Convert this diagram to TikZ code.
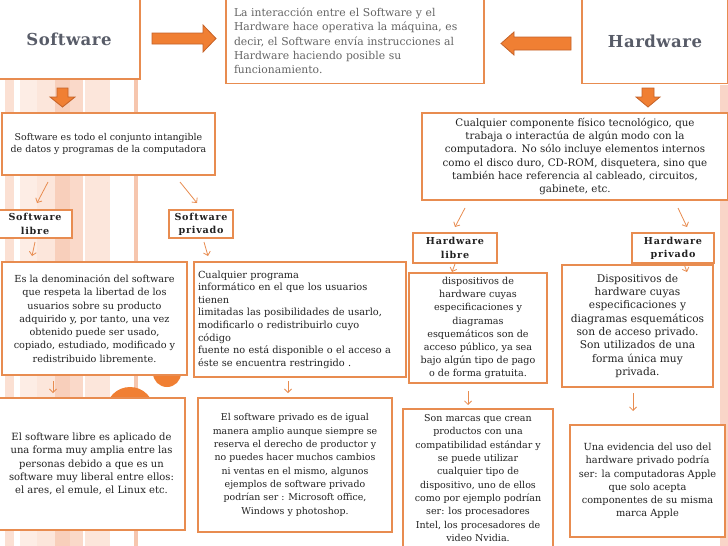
\documentclass[tikz,border=0pt]{standalone}
\usepackage{fontspec}
\setmainfont{DejaVu Serif}
\newfontfamily\hdrfont[LetterSpace=8]{DejaVu Serif}
\newfontfamily\ttlfont[LetterSpace=3]{DejaVu Serif}
\usetikzlibrary{arrows.meta}
\definecolor{bord}{RGB}{232,140,80}
\definecolor{arrfill}{RGB}{240,127,51}
\definecolor{arredge}{RGB}{196,98,40}
\definecolor{txt}{RGB}{34,34,34}
\definecolor{ttl}{RGB}{88,92,104}
\definecolor{midtxt}{RGB}{100,100,100}
\definecolor{stA}{RGB}{251,224,211}
\definecolor{stB}{RGB}{253,237,229}
\definecolor{stC}{RGB}{248,207,187}
\definecolor{stD}{RGB}{250,217,201}
\definecolor{stE}{RGB}{252,230,219}
\definecolor{stF}{RGB}{246,198,174}
\definecolor{stR}{RGB}{249,213,200}
\newcommand\fsz[2]{\fontsize{#1}{#2}\selectfont}
\begin{document}
\begin{tikzpicture}[x=1pt,y=-1pt,
  box/.style={draw=bord, line width=1.8pt, fill=white, inner sep=0pt, text=txt, align=center},
  hdr/.style={box, font=\hdrfont\bfseries\fsz{9.6}{13.3}},
  conn/.style={draw=bord, line width=0.8pt, -{Straight Barb[length=3.5pt,width=7pt]}},
  bigarrow/.style={fill=arrfill, draw=arredge, line width=0.8pt, line join=miter}]
\useasboundingbox (0,0) rectangle (728,546);
\fill[white] (0,0) rectangle (728,546);
% decorative background stripes
\fill[stA] (5,0) rectangle (14,546);
\fill[stB] (20,0) rectangle (37,546);
\fill[stE] (37,0) rectangle (55,546);
\fill[stC] (55,0) rectangle (70,546);
\fill[stD] (70,0) rectangle (83,546);
\fill[stE] (85,0) rectangle (110,546);
\fill[stF] (134,0) rectangle (137.5,546);
\fill[stR] (720,85) rectangle (728,546);
\fill[arrfill] (130,411) circle (24);
\fill[arrfill] (167,373) circle (14);
% main boxes
\node[box, minimum width=142, minimum height=80, font=\ttlfont\bfseries\fsz{16.5}{19}, text=ttl] (sw) at (69,39) {Software};
\node[box, minimum width=258, minimum height=85, align=left, text width=242, font=\fsz{10.8}{14.3}, text=midtxt] (mid) at (355,41) {La interacción entre el Software y el\\Hardware hace operativa la máquina, es\\decir, el Software envía instrucciones al\\Hardware haciendo posible su\\funcionamiento.};
\node[box, minimum width=146, minimum height=85, font=\ttlfont\bfseries\fsz{16.5}{19}, text=ttl] (hw) at (655,41) {Hardware};
% big arrows
\draw[bigarrow] (152,33) -- (203,33) -- (203,25) -- (216,38.5) -- (203,52) -- (203,44) -- (152,44) -- cycle;
\draw[bigarrow] (571,37) -- (514,37) -- (514,32) -- (501,43.5) -- (514,55) -- (514,50) -- (571,50) -- cycle;
\draw[bigarrow] (57,88) -- (68,88) -- (68,97) -- (75,97) -- (62.5,107) -- (50,97) -- (57,97) -- cycle;
\draw[bigarrow] (642,88) -- (654,88) -- (654,97) -- (660,97) -- (648,107) -- (636,97) -- (642,97) -- cycle;
% definitions
\node[box, minimum width=213, minimum height=62, font=\fsz{9.4}{12.7}] (swdef) at (108.5,144) {Software es todo el conjunto intangible\\de datos y programas de la computadora};
\node[box, minimum width=306, minimum height=87, font=\fsz{10.3}{13.3}] (hwdef) at (575,156.5) {Cualquier componente físico tecnológico, que\\trabaja o interactúa de algún modo con la\\computadora. No sólo incluye elementos internos\\como el disco duro, CD-ROM, disquetera, sino que\\también hace referencia al cableado, circuitos,\\gabinete, etc.};
% headers
\node[hdr, minimum width=74, minimum height=28] (swl) at (35,224) {Software\\libre};
\node[hdr, minimum width=64, minimum height=28] (swp) at (201,224) {Software\\privado};
\node[hdr, minimum width=84, minimum height=30] (hwl) at (455,248) {Hardware\\libre};
\node[hdr, minimum width=82, minimum height=30] (hwp) at (673,248) {Hardware\\privado};
% descriptions
\node[box, minimum width=185, minimum height=113, font=\fsz{9.7}{13.3}] (esla) at (94.5,318.5) {Es la denominación del software\\que respeta la libertad de los\\usuarios sobre su producto\\adquirido y, por tanto, una vez\\obtenido puede ser usado,\\copiado, estudiado, modificado y\\redistribuido libremente.};
\node[box, minimum width=212, minimum height=115, align=left, text width=204, font=\fsz{9.8}{12.6}] (cualq) at (300,319.5) {Cualquier programa\\informático en el que los usuarios\\tienen\\limitadas las posibilidades de usarlo,\\modificarlo o redistribuirlo cuyo\\código\\fuente no está disponible o el acceso a\\éste se encuentra restringido .};
\node[box, minimum width=138, minimum height=110, font=\fsz{9.6}{13.1}] (displ) at (478,328) {dispositivos de\\hardware cuyas\\especificaciones y\\diagramas\\esquemáticos son de\\acceso público, ya sea\\bajo algún tipo de pago\\o de forma gratuita.};
\node[box, minimum width=151, minimum height=122, font=\fsz{10.6}{13.3}] (dispp) at (637.5,326) {Dispositivos de\\hardware cuyas\\especificaciones y\\diagramas esquemáticos\\son de acceso privado.\\Son utilizados de una\\forma única muy\\privada.};
% bottom row
\node[box, minimum width=187, minimum height=132, font=\fsz{10}{13.3}] (bl) at (91.5,464) {El software libre es aplicado de\\una forma muy amplia entre las\\personas debido a que es un\\software muy liberal entre ellos:\\el ares, el emule, el Linux etc.};
\node[box, minimum width=194, minimum height=134, font=\fsz{9.4}{13.3}] (bm) at (295,465) {El software privado es de igual\\manera amplio aunque siempre se\\reserva el derecho de productor y\\no puedes hacer muchos cambios\\ni ventas en el mismo, algunos\\ejemplos de software privado\\podrían ser : Microsoft office,\\Windows y photoshop.};
\node[box, minimum width=150, minimum height=138, font=\fsz{9.5}{13.3}] (bhl) at (478,478) {Son marcas que crean\\productos con una\\compatibilidad estándar y\\se puede utilizar\\cualquier tipo de\\dispositivo, uno de ellos\\como por ejemplo podrían\\ser: los procesadores\\Intel, los procesadores de\\video Nvidia.};
\node[box, minimum width=155, minimum height=112, font=\fsz{9.8}{13.3}] (bhp) at (647.5,481) {Una evidencia del uso del\\hardware privado podría\\ser: la computadoras Apple\\que solo acepta\\componentes de su misma\\marca Apple};
% connector end points
\coordinate (c1a) at (48,182);   \coordinate (c1b) at (37,203);
\coordinate (c2a) at (180,182);  \coordinate (c2b) at (197,203);
\coordinate (c3a) at (465,208);  \coordinate (c3b) at (455,227);
\coordinate (c4a) at (678,208);  \coordinate (c4b) at (687,227);
\coordinate (c5a) at (35,242);   \coordinate (c5b) at (32,256);
\coordinate (c6a) at (204,242);  \coordinate (c6b) at (208,256);
\coordinate (c7a) at (455,264);  \coordinate (c7b) at (452,272);
\coordinate (c8a) at (684,264);  \coordinate (c8b) at (687,272);
\coordinate (c9a) at (53,381);   \coordinate (c9b) at (53,393);
\coordinate (c10a) at (288,381); \coordinate (c10b) at (288,393);
\coordinate (c11a) at (468,391); \coordinate (c11b) at (468,405);
\coordinate (c12a) at (633,393); \coordinate (c12b) at (633,411);
\draw[conn] (c1a) -- (c1b);
\draw[conn] (c2a) -- (c2b);
\draw[conn] (c3a) -- (c3b);
\draw[conn] (c4a) -- (c4b);
\draw[conn] (c5a) -- (c5b);
\draw[conn] (c6a) -- (c6b);
\draw[conn] (c7a) -- (c7b);
\draw[conn] (c8a) -- (c8b);
\draw[conn] (c9a) -- (c9b);
\draw[conn] (c10a) -- (c10b);
\draw[conn] (c11a) -- (c11b);
\draw[conn] (c12a) -- (c12b);
\end{tikzpicture}
\end{document}
